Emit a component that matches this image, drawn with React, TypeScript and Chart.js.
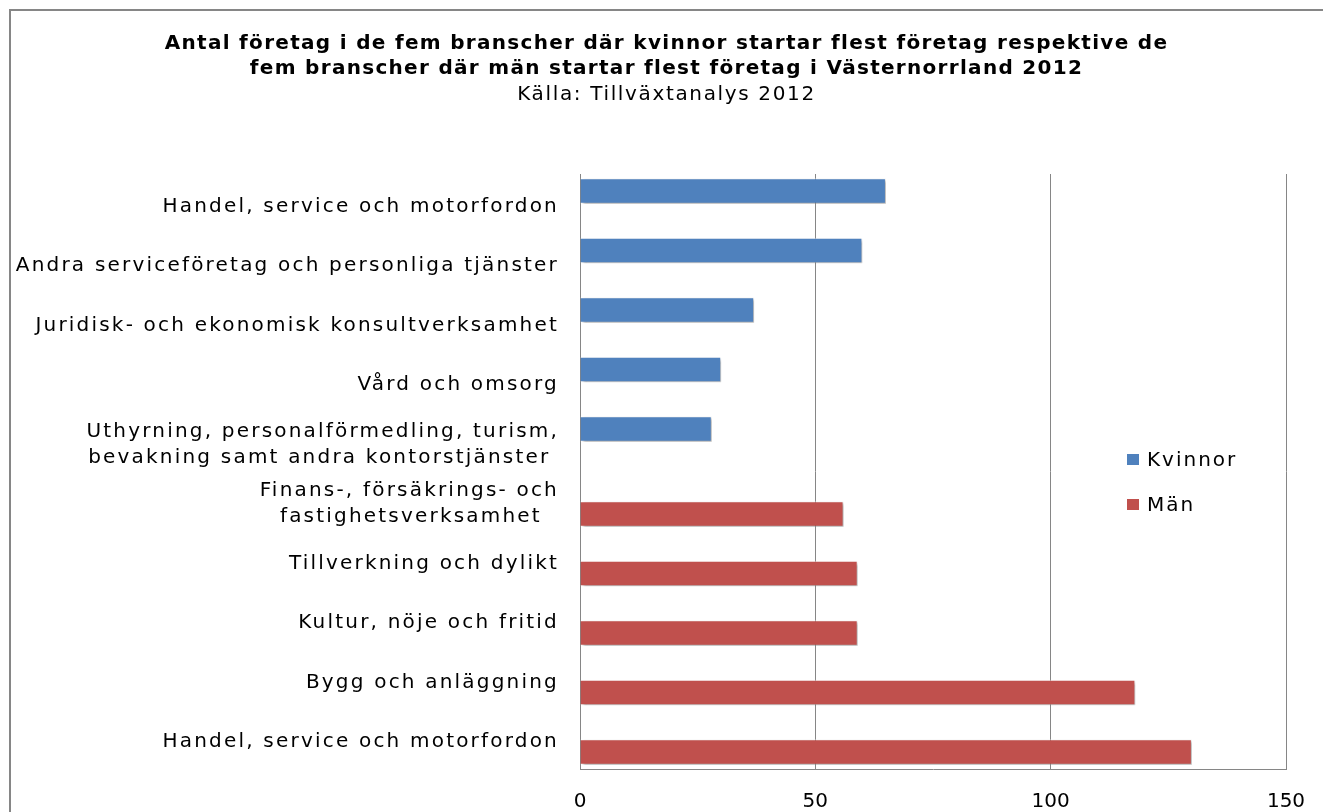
import React, { useEffect, useRef } from "react";
import { Chart, registerables } from "chart.js";

Chart.register(...registerables);

const titleLines = [
  "Antal företag i de fem branscher där kvinnor startar flest företag respektive de",
  "fem branscher där män startar flest företag i Västernorrland 2012",
];
const subtitleText = "Källa: Tillväxtanalys 2012";

const categories: (string | string[])[] = [
  "Handel, service och motorfordon",
  "Andra serviceföretag och personliga tjänster",
  "Juridisk- och ekonomisk konsultverksamhet",
  "Vård och omsorg",
  ["Uthyrning, personalförmedling, turism,", "bevakning samt andra kontorstjänster "],
  ["Finans-, försäkrings- och", "fastighetsverksamhet  "],
  "Tillverkning och dylikt",
  "Kultur, nöje och fritid",
  "Bygg och anläggning",
  "Handel, service och motorfordon",
];

const kvinnor = [65, 60, 37, 30, 28, null, null, null, null, null];
const man = [null, null, null, null, null, 56, 59, 59, 118, 130];

const seriesNames = ["Kvinnor", "Män"];
const seriesColors = ["#4F81BD", "#C0504D"];
const xTicks = [0, 50, 100, 150];

const FONT = "'DejaVu Sans', sans-serif";

const shadowPlugin = {
  id: "barShadow",
  beforeDatasetsDraw(chart: any) {
    const ctx = chart.ctx;
    ctx.save();
    ctx.shadowColor = "rgba(0,0,0,0.35)";
    ctx.shadowBlur = 3;
    ctx.shadowOffsetX = 2;
    ctx.shadowOffsetY = 2;
  },
  afterDatasetsDraw(chart: any) {
    chart.ctx.restore();
  },
};

const spacingPlugin = {
  id: "letterSpacing",
  beforeDraw(chart: any) {
    const wrap = (obj: any, method: string, sp: string) => {
      if (!obj || obj["__ls_" + method]) return;
      const orig = obj[method];
      obj[method] = function (...args: any[]) {
        const ctx = chart.ctx;
        const prev = ctx.letterSpacing;
        ctx.letterSpacing = sp;
        try {
          return orig.apply(this, args);
        } finally {
          ctx.letterSpacing = prev;
        }
      };
      obj["__ls_" + method] = true;
    };
    wrap(chart.scales.y, "drawLabels", "2.2px");
    chart.boxes.forEach((b: any) => {
      const t = b && b.options && b.options.text;
      if (Array.isArray(t)) wrap(b, "draw", "1.3px");
      else if (t === subtitleText) wrap(b, "draw", "1.65px");
    });
  },
};

export default function App() {
  const ref = useRef<HTMLCanvasElement>(null);

  useEffect(() => {
    if (!ref.current) return;
    const chart = new Chart(ref.current, {
      type: "bar",
      data: {
        labels: categories as any,
        datasets: [
          {
            label: seriesNames[0],
            data: kvinnor as any,
            backgroundColor: seriesColors[0],
            borderColor: "rgba(255,255,255,0.55)",
            borderWidth: 1,
          },
          {
            label: seriesNames[1],
            data: man as any,
            backgroundColor: seriesColors[1],
            borderColor: "rgba(255,255,255,0.55)",
            borderWidth: 1,
          },
        ],
      },
      plugins: [shadowPlugin, spacingPlugin],
      options: {
        indexAxis: "y",
        animation: false,
        responsive: false,
        maintainAspectRatio: false,
        datasets: {
          bar: { categoryPercentage: 0.86, barPercentage: 1.0 },
        },
        layout: { padding: { left: 10, right: 0, top: 0, bottom: 0 } },
        plugins: {
          legend: { display: false },
          tooltip: { enabled: false },
          title: {
            display: true,
            text: titleLines,
            color: "#000",
            font: { family: FONT, size: 20, weight: "bold", lineHeight: 1.25 },
            padding: { top: 31, bottom: 0 },
          },
          subtitle: {
            display: true,
            text: subtitleText,
            color: "#000",
            font: { family: FONT, size: 20, weight: "normal", lineHeight: 1.25 },
            padding: { top: 1, bottom: 67 },
          },
        },
        scales: {
          x: {
            type: "linear",
            position: "bottom",
            min: xTicks[0],
            max: xTicks[xTicks.length - 1],
            afterBuildTicks(s: any) {
              s.ticks = xTicks.map((v) => ({ value: v }));
            },
            grid: { color: "#868686", lineWidth: 1, drawTicks: false },
            border: { display: true, color: "#868686", width: 1 },
            ticks: { color: "#000", padding: 21, font: { family: FONT, size: 20 } },
            afterFit(s: any) {
              s.height = 43;
              s.paddingLeft = 0;
              s.paddingRight = 0;
            },
          },
          y: {
            type: "category",
            position: "left",
            grid: { display: false, drawTicks: false },
            border: { display: true, color: "#868686", width: 1 },
            ticks: {
              color: "#000",
              padding: 21,
              labelOffset: 3,
              font: { family: FONT, size: 20, lineHeight: 1.3 },
            },
            afterFit(s: any) {
              s.width = 570;
            },
          },
          yR: {
            type: "linear",
            position: "right",
            display: true,
            grid: { display: false, drawTicks: false },
            border: { display: false },
            ticks: { display: false },
            afterFit(s: any) {
              s.width = 37;
            },
          },
        },
      } as any,
    });
    return () => chart.destroy();
  }, []);

  const legendItem = (i: number, top: number) => (
    <div
      key={i}
      style={{ position: "absolute", left: 1127, top, height: 24, display: "flex", alignItems: "center" }}
    >
      <div style={{ width: 12, height: 11, background: seriesColors[i], marginRight: 8 }} />
      <span style={{ fontFamily: FONT, fontSize: 20, color: "#000", lineHeight: "24px", letterSpacing: "2px" }}>
        {seriesNames[i]}
      </span>
    </div>
  );

  return (
    <div style={{ position: "absolute", left: 0, top: 0, width: 1323, height: 812, overflow: "hidden", background: "#fff" }}>
      <div
        style={{
          position: "absolute",
          left: 9,
          top: 9,
          width: 1400,
          height: 900,
          border: "2px solid #868686",
        }}
      />
      <canvas ref={ref} width={1323} height={812} style={{ position: "absolute", left: 0, top: 0, width: 1323, height: 812 }} />
      {legendItem(0, 447)}
      {legendItem(1, 492)}
    </div>
  );
}
